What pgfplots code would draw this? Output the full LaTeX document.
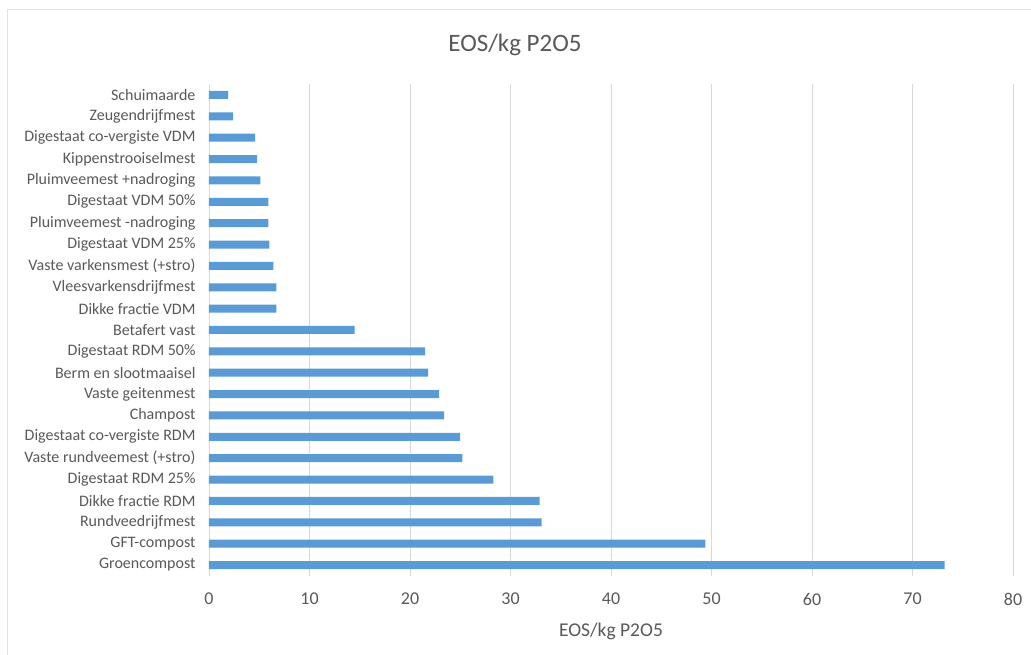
\documentclass[border=0pt]{standalone}
\usepackage{fontspec}
\setmainfont{Carlito}
\usepackage{pgfplots}
\pgfplotsset{compat=1.18}
\definecolor{barblue}{HTML}{5B9BD5}
\definecolor{txtgray}{HTML}{595959}
\definecolor{gridgray}{HTML}{D9D9D9}

\begin{document}
\begin{tikzpicture}[x=1pt,y=1pt]
\useasboundingbox (0,0) rectangle (1031,655);
\fill[white] (0,0) rectangle (1031,655);
\draw[gridgray!80, line width=1pt] (7,0) -- (7,645) -- (1031,645);
\node[txtgray, font=\fontsize{25}{30}\selectfont] at (515,610) {EOS/kg P2O5};
\begin{axis}[
    at={(209pt,79.3pt)}, anchor=south west,
    scale only axis,
    width=804pt, height=491.4pt,
    xbar, bar width=8pt,
    xmin=0, xmax=80,
    xtick={0,10,...,80},
    ymin=-0.5, ymax=22.5,
    ytick={0,...,22},
    yticklabels={Groencompost, GFT-compost, Rundveedrijfmest, Dikke fractie RDM,
      Digestaat RDM 25\%, Vaste rundveemest (+stro), Digestaat co-vergiste RDM,
      Champost, Vaste geitenmest, Berm en slootmaaisel, Digestaat RDM 50\%,
      Betafert vast, Dikke fractie VDM, Vleesvarkensdrijfmest,
      Vaste varkensmest (+stro), Digestaat VDM 25\%, Pluimveemest -nadroging,
      Digestaat VDM 50\%, Pluimveemest +nadroging, Kippenstrooiselmest,
      Digestaat co-vergiste VDM, Zeugendrijfmest, Schuimaarde},
    axis line style={draw=none},
    major tick length=0pt,
    xmajorgrids, grid style={gridgray, line width=0.8pt},
    /pgf/number format/assume math mode=true,
    ticklabel style={txtgray},
    xticklabel style={font=\fontsize{18}{22}\selectfont, yshift=-14pt},
    yticklabel style={font=\fontsize{16}{19}\selectfont, xshift=-10pt},
    xlabel={EOS/kg P2O5},
    xlabel style={txtgray, font=\fontsize{19.5}{23}\selectfont, yshift=-10pt},
]
\addplot[fill=barblue, draw=none] coordinates {
(73.2,0) (49.4,1) (33.1,2) (32.9,3) (28.3,4) (25.2,5) (25.0,6) (23.4,7)
(22.9,8) (21.8,9) (21.5,10) (14.5,11) (6.7,12) (6.7,13) (6.4,14) (6.0,15)
(5.9,16) (5.9,17) (5.1,18) (4.8,19) (4.6,20) (2.4,21) (1.9,22)
};
\end{axis}
\end{tikzpicture}
\end{document}
